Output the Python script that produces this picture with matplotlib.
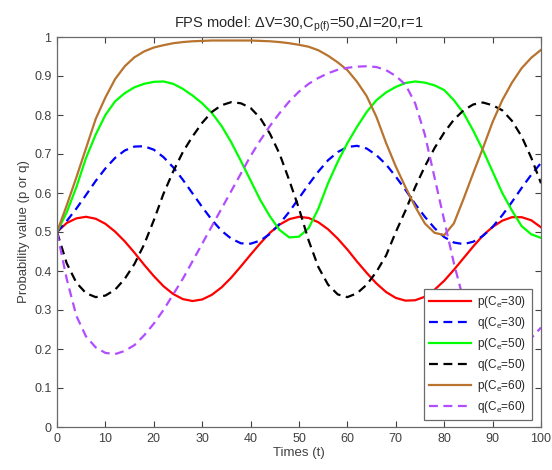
import numpy as np
import matplotlib
matplotlib.use("Agg")
import matplotlib.pyplot as plt

plt.rcParams['font.family'] = ['Liberation Sans', 'DejaVu Sans']
plt.rcParams['mathtext.fontset'] = 'custom'
plt.rcParams['mathtext.rm'] = 'Liberation Sans'
plt.rcParams['mathtext.it'] = 'Liberation Sans'

t = list(range(0, 101, 2))

p30 = [0.500, 0.523, 0.535, 0.539, 0.534, 0.521, 0.501, 0.476, 0.447, 0.416,
       0.387, 0.361, 0.341, 0.328, 0.323, 0.327, 0.339, 0.358, 0.383, 0.412,
       0.442, 0.471, 0.498, 0.519, 0.533, 0.539, 0.536, 0.525, 0.507, 0.483,
       0.455, 0.424, 0.395, 0.368, 0.346, 0.331, 0.324, 0.325, 0.334, 0.352,
       0.375, 0.403, 0.433, 0.463, 0.491, 0.513, 0.529, 0.538, 0.538, 0.530,
       0.512]
q30 = [0.500, 0.528, 0.560, 0.595, 0.631, 0.663, 0.690, 0.709, 0.719, 0.720,
       0.711, 0.692, 0.666, 0.634, 0.599, 0.564, 0.531, 0.503, 0.483, 0.471,
       0.470, 0.478, 0.495, 0.521, 0.552, 0.587, 0.622, 0.655, 0.684, 0.705,
       0.718, 0.721, 0.714, 0.697, 0.673, 0.642, 0.608, 0.572, 0.539, 0.510,
       0.487, 0.473, 0.469, 0.475, 0.490, 0.513, 0.543, 0.577, 0.613, 0.647,
       0.677]
p50 = [0.500, 0.550, 0.615, 0.690, 0.750, 0.800, 0.835, 0.856, 0.871, 0.880,
       0.885, 0.886, 0.880, 0.867, 0.850, 0.830, 0.805, 0.772, 0.730, 0.682,
       0.632, 0.582, 0.540, 0.505, 0.486, 0.488, 0.510, 0.560, 0.625, 0.680,
       0.728, 0.770, 0.808, 0.838, 0.858, 0.872, 0.882, 0.886, 0.883, 0.876,
       0.864, 0.838, 0.805, 0.760, 0.710, 0.655, 0.600, 0.555, 0.515, 0.494,
       0.485]
q50 = [0.500, 0.420, 0.370, 0.343, 0.333, 0.337, 0.352, 0.380, 0.418, 0.468,
       0.530, 0.598, 0.655, 0.705, 0.745, 0.780, 0.808, 0.825, 0.833, 0.830,
       0.818, 0.792, 0.752, 0.700, 0.632, 0.560, 0.478, 0.410, 0.365, 0.340,
       0.333, 0.343, 0.365, 0.398, 0.440, 0.500, 0.555, 0.615, 0.668, 0.715,
       0.755, 0.788, 0.812, 0.827, 0.832, 0.825, 0.812, 0.785, 0.745, 0.690,
       0.625]
p60 = [0.500, 0.568, 0.640, 0.715, 0.790, 0.845, 0.892, 0.925, 0.948, 0.963,
       0.973, 0.979, 0.984, 0.987, 0.989, 0.990, 0.991, 0.991, 0.991, 0.991,
       0.991, 0.990, 0.989, 0.987, 0.984, 0.980, 0.975, 0.966, 0.952, 0.935,
       0.915, 0.885, 0.848, 0.795, 0.728, 0.668, 0.615, 0.565, 0.522, 0.498,
       0.492, 0.522, 0.585, 0.651, 0.715, 0.782, 0.838, 0.883, 0.920, 0.947,
       0.967]
q60 = [0.500, 0.380, 0.285, 0.232, 0.204, 0.190, 0.187, 0.195, 0.210, 0.235,
       0.265, 0.300, 0.340, 0.380, 0.425, 0.470, 0.515, 0.560, 0.605, 0.650,
       0.695, 0.735, 0.772, 0.805, 0.835, 0.860, 0.880, 0.895, 0.907, 0.916,
       0.921, 0.924, 0.925, 0.923, 0.915, 0.900, 0.878, 0.830, 0.750, 0.640,
       0.530, 0.420, 0.325, 0.260, 0.218, 0.195, 0.187, 0.190, 0.205, 0.228,
       0.255]

gray = '#404040'
fig = plt.figure(figsize=(5.52, 4.70), dpi=100)
ax = fig.add_axes([57/552, 1 - 427/470, 484/552, 390/470])

dash = (4, 2.5)
ax.plot(t, p30, color='#ff0000', lw=1.6, label='p(C$_\\mathrm{e}$=30)')
ax.plot(t, q30, color='#0000ff', lw=1.6, dashes=dash, label='q(C$_\\mathrm{e}$=30)')
ax.plot(t, p50, color='#00ff00', lw=1.6, label='p(C$_\\mathrm{e}$=50)')
ax.plot(t, q50, color='#000000', lw=1.6, dashes=dash, label='q(C$_\\mathrm{e}$=50)')
ax.plot(t, p60, color='#b8732e', lw=1.6, label='p(C$_\\mathrm{e}$=60)')
ax.plot(t, q60, color='#b24dff', lw=1.6, dashes=dash, label='q(C$_\\mathrm{e}$=60)')

ax.set_xlim(0, 100)
ax.set_ylim(0, 1)
ax.set_xticks(range(0, 101, 10))
ax.set_yticks(np.arange(0, 1.01, 0.1))
ax.set_yticklabels(['0', '0.1', '0.2', '0.3', '0.4', '0.5', '0.6', '0.7', '0.8', '0.9', '1'])
ax.tick_params(direction='in', length=4, width=0.8, colors=gray, labelsize=9,
               top=True, right=True, pad=4)
for s in ax.spines.values():
    s.set_color('#6a6a6a')
    s.set_linewidth(0.9)

ax.set_xlabel('Times (t)', fontsize=9.5, color=gray, labelpad=2)
ax.set_ylabel('Probability value (p or q)', fontsize=9.5, color=gray, labelpad=3)
ax.set_title('FPS model: ΔV=30,C$_{\\mathrm{p(f)}}$=50,ΔI=20,r=1', fontsize=10.5,
             color='#262626', pad=7)

leg = ax.legend(loc='lower right', bbox_to_anchor=(0.981, 0.018), fontsize=8.5,
                frameon=True, fancybox=False, edgecolor='#6a6a6a', framealpha=1,
                handlelength=3.6, handletextpad=0.5, labelspacing=0.42,
                borderpad=0.45, borderaxespad=0)
leg.get_frame().set_linewidth(0.9)
for txt in leg.get_texts():
    txt.set_color('#262626')

fig.savefig('out.png', dpi=100)
